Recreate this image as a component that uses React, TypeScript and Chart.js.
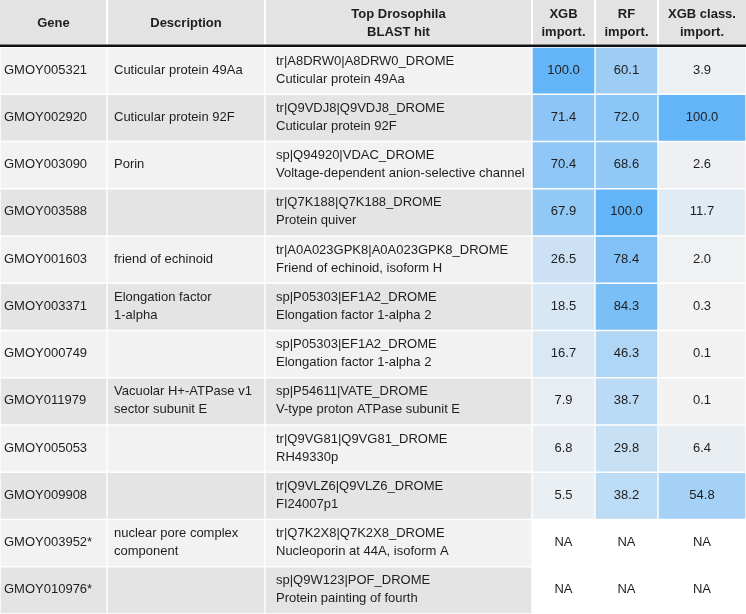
import React, { useEffect, useRef } from "react";
import { Chart, registerables } from "chart.js";

Chart.register(...registerables);

// ---- data ----
const genes = [
  "GMOY005321", "GMOY002920", "GMOY003090", "GMOY003588", "GMOY001603", "GMOY003371",
  "GMOY000749", "GMOY011979", "GMOY005053", "GMOY009908", "GMOY003952*", "GMOY010976*",
];
const descriptions = [
  "Cuticular protein 49Aa", "Cuticular protein 92F", "Porin", "", "friend of echinoid",
  "Elongation factor\n1-alpha", "", "Vacuolar H+-ATPase v1\nsector subunit E", "", "",
  "nuclear pore complex\ncomponent", "",
];
const blastIds = [
  "tr|A8DRW0|A8DRW0_DROME", "tr|Q9VDJ8|Q9VDJ8_DROME", "sp|Q94920|VDAC_DROME",
  "tr|Q7K188|Q7K188_DROME", "tr|A0A023GPK8|A0A023GPK8_DROME", "sp|P05303|EF1A2_DROME",
  "sp|P05303|EF1A2_DROME", "sp|P54611|VATE_DROME", "tr|Q9VG81|Q9VG81_DROME",
  "tr|Q9VLZ6|Q9VLZ6_DROME", "tr|Q7K2X8|Q7K2X8_DROME", "sp|Q9W123|POF_DROME",
];
const blastNames = [
  "Cuticular protein 49Aa", "Cuticular protein 92F", "Voltage-dependent anion-selective channel",
  "Protein quiver", "Friend of echinoid, isoform H", "Elongation factor 1-alpha 2",
  "Elongation factor 1-alpha 2", "V-type proton ATPase subunit E", "RH49330p", "FI24007p1",
  "Nucleoporin at 44A, isoform A", "Protein painting of fourth",
];
const xgbImport: (number | null)[] = [100.0, 71.4, 70.4, 67.9, 26.5, 18.5, 16.7, 7.9, 6.8, 5.5, null, null];
const rfImport: (number | null)[] = [60.1, 72.0, 68.6, 100.0, 78.4, 84.3, 46.3, 38.7, 29.8, 38.2, null, null];
const xgbClassImport: (number | null)[] = [3.9, 100.0, 2.6, 11.7, 2.0, 0.3, 0.1, 0.1, 6.4, 54.8, null, null];
const headers = [
  ["Gene"], ["Description"], ["Top Drosophila", "BLAST hit"],
  ["XGB", "import."], ["RF", "import."], ["XGB class.", "import."],
];

// ---- layout / style ----
const W = 746;
const H = 614;
const colEdges = [0, 107, 265, 532, 595, 658, 746];
const textPad = [4, 7, 11];
const HEADER_H = 47;
const LINE_GAP = 18;
const FONT = '"Liberation Sans", Arial, Helvetica, sans-serif';
const LIGHT = "#f2f2f2";
const DARK = "#e4e4e4";
const HEADER_BG = "#e3e3e3";
const TEXT = "#1e1e1e";

function heat(v: number | null): string {
  if (v === null) return "#ffffff";
  const t = Math.max(0, Math.min(1, v / 100));
  const lo = [242, 242, 243];
  const hi = [100, 181, 247];
  const c = lo.map((l, i) => Math.round(l + (hi[i] - l) * t));
  return `rgb(${c[0]},${c[1]},${c[2]})`;
}

const rowBg = genes.map((_, i) => (i % 2 === 0 ? LIGHT : DARK));
const numericCols = [xgbImport, rfImport, xgbClassImport];

const tablePlugin = {
  id: "tableText",
  beforeDatasetsDraw(chart: any) {
    const ctx = chart.ctx;
    const xs = chart.scales.x;
    const top = chart.chartArea.top;
    ctx.save();
    for (let c = 0; c < 6; c++) {
      const x0 = xs.getPixelForValue(colEdges[c]);
      const x1 = xs.getPixelForValue(colEdges[c + 1]);
      ctx.fillStyle = HEADER_BG;
      ctx.fillRect(x0 + (c === 0 ? 0 : 1), 0, x1 - x0 - (c === 0 ? 1 : 2) + (c === 5 ? 1 : 0), top - 2.5);
    }
    ctx.fillStyle = "#111111";
    ctx.fillRect(0, top - 2.5, chart.width, 2.5);
    ctx.restore();
  },
  afterDatasetsDraw(chart: any) {
    const ctx = chart.ctx;
    const xs = chart.scales.x;
    const ys = chart.scales.y;
    const top = chart.chartArea.top;
    ctx.save();
    ctx.textBaseline = "middle";
    ctx.fillStyle = TEXT;
    const drawLines = (lines: string[], x: number, cy: number) => {
      lines.forEach((ln, k) => {
        const off = (k - (lines.length - 1) / 2) * LINE_GAP;
        ctx.fillText(ln, x, cy + off);
      });
    };
    // header text
    ctx.font = `bold 13px ${FONT}`;
    ctx.textAlign = "center";
    headers.forEach((lines, c) => {
      const cx = (xs.getPixelForValue(colEdges[c]) + xs.getPixelForValue(colEdges[c + 1])) / 2;
      const cy = (top - 2.5) / 2 + 1;
      drawLines(lines, cx, cy);
    });
    // body text
    ctx.font = `13px ${FONT}`;
    genes.forEach((g, i) => {
      const cy = ys.getPixelForValue(i) - 0.5;
      ctx.textAlign = "left";
      drawLines([g], xs.getPixelForValue(colEdges[0]) + textPad[0], cy);
      if (descriptions[i]) drawLines(descriptions[i].split("\n"), xs.getPixelForValue(colEdges[1]) + textPad[1], cy);
      drawLines([blastIds[i], blastNames[i]], xs.getPixelForValue(colEdges[2]) + textPad[2], cy);
      ctx.textAlign = "center";
      numericCols.forEach((arr, k) => {
        const cx = (xs.getPixelForValue(colEdges[3 + k]) + xs.getPixelForValue(colEdges[4 + k])) / 2;
        const v = arr[i];
        ctx.fillText(v === null ? "NA" : v.toFixed(1), cx, cy);
      });
    });
    ctx.restore();
  },
};

export default function App() {
  const ref = useRef<HTMLCanvasElement | null>(null);
  useEffect(() => {
    document.body.style.margin = "0";
    const canvas = ref.current;
    if (!canvas) return;
    const colBgs = [rowBg, rowBg, rowBg, ...numericCols.map((arr) => arr.map(heat))];
    const datasets = colBgs.map((bg, c) => ({
      label: headers[c].join(" "),
      data: genes.map(() => [colEdges[c], colEdges[c + 1]]),
      backgroundColor: bg,
      borderColor: "#ffffff",
      borderWidth: 1,
      borderSkipped: false,
      grouped: false,
      categoryPercentage: 1,
      barPercentage: 1,
    }));
    const chart = new Chart(canvas, {
      type: "bar",
      data: { labels: genes, datasets: datasets as any },
      options: {
        indexAxis: "y",
        responsive: false,
        animation: false,
        devicePixelRatio: 1,
        layout: { padding: { top: HEADER_H, left: 0, right: 0, bottom: 0 } },
        plugins: { legend: { display: false }, tooltip: { enabled: false } },
        scales: {
          x: { type: "linear", min: colEdges[0], max: colEdges[colEdges.length - 1], display: false },
          y: { type: "category", display: false, offset: true },
        },
      },
      plugins: [tablePlugin],
    });
    return () => chart.destroy();
  }, []);
  return (
    <div style={{ width: W, height: H, background: "#ffffff" }}>
      <canvas ref={ref} width={W} height={H} style={{ display: "block", width: W, height: H }} />
    </div>
  );
}
